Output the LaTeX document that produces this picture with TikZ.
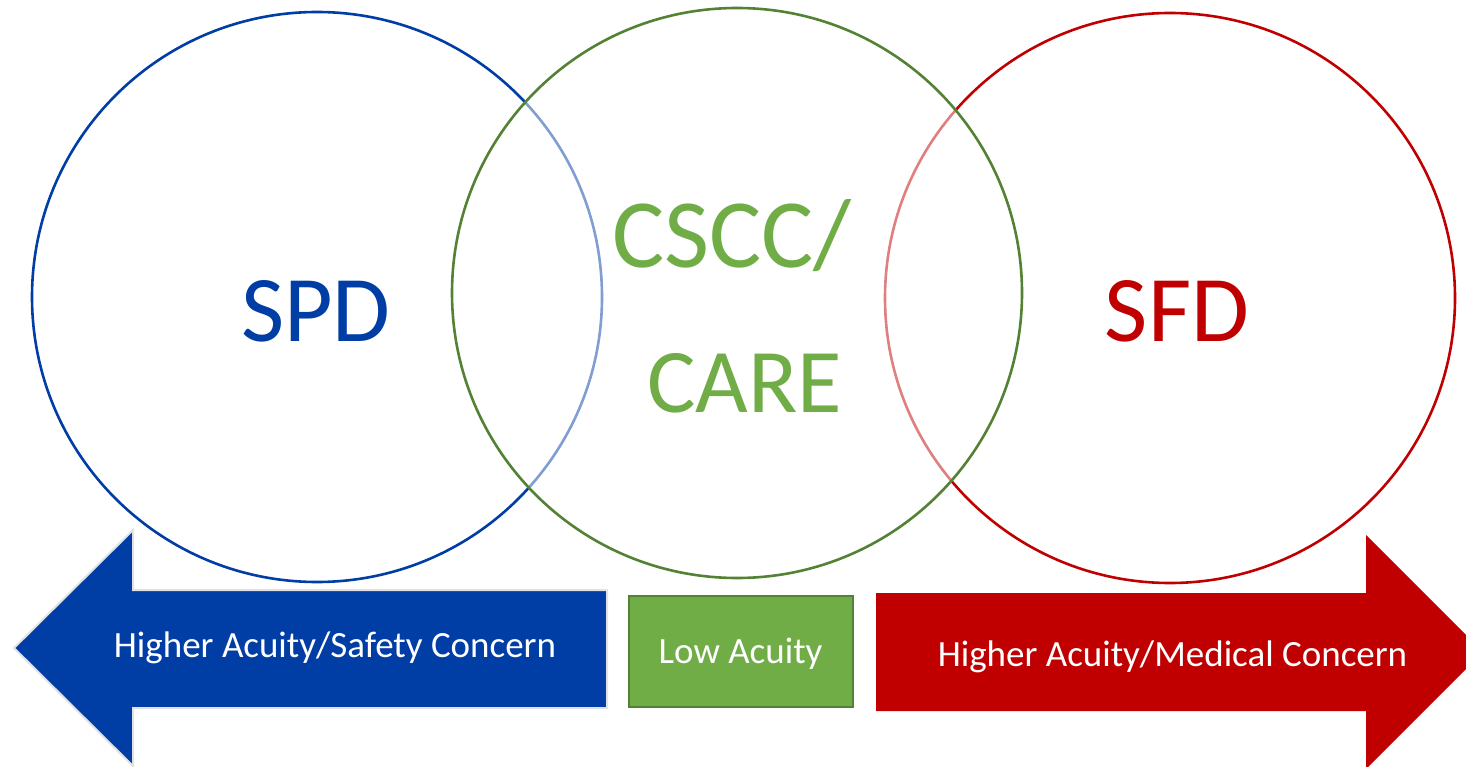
\documentclass[tikz,border=0pt]{standalone}
\usepackage{fontspec}
\setmainfont{Carlito}
\definecolor{spdblue}{RGB}{0,61,165}
\definecolor{sfdred}{RGB}{192,0,0}
\definecolor{carefill}{RGB}{112,173,71}
\definecolor{caredark}{RGB}{84,130,53}
\definecolor{arrowedge}{RGB}{225,225,230}
\begin{document}
\begin{tikzpicture}[x=1pt,y=-1pt,
  ring/.style={line width=2.6pt},
  bigtext/.style={anchor=base,inner sep=0pt,font=\fontsize{94}{110}\selectfont},
  smalltext/.style={anchor=base,inner sep=0pt,text=white,font=\fontsize{37}{44}\selectfont}]
\useasboundingbox (0,0) rectangle (1466,767);
% circles
\draw[ring,draw=spdblue,fill=white] (317,297) circle[radius=285];
\draw[ring,draw=sfdred,fill=white] (1170,298) circle[radius=285];
\fill[white,fill opacity=0.5] (737,293) circle[radius=285];
\draw[ring,draw=caredark] (737,293) circle[radius=285];
% texts in circles
\node[bigtext,text=spdblue] (spd) at (316,341) {SPD};
\node[bigtext,text=sfdred] (sfd) at (1177,341) {SFD};
\node[bigtext,text=carefill,font=\fontsize{98}{110}\selectfont] (cscc) at (732,268) {CSCC/};
\node[bigtext,text=carefill,font=\fontsize{91}{110}\selectfont] (care) at (744.5,412) {CARE};
% blue arrow
\fill[spdblue,draw=arrowedge,line width=2pt,line join=miter]
  (14,648) -- (133,530) -- (133,590) -- (607,590) -- (607,708) -- (133,708) -- (133,766) -- cycle;
% red arrow
\fill[sfdred] (876,593) -- (1366,593) -- (1366,535) -- (1483,652) -- (1366,769) -- (1366,711) -- (876,711) -- cycle;
% green box
\draw[fill=carefill,draw=caredark,line width=2.5pt] (629,596) rectangle (853,707);
% labels
\node[smalltext] (safety) at (335,657) {Higher Acuity/Safety Concern};
\node[smalltext] (low) at (740.5,663) {Low Acuity};
\node[smalltext] (medical) at (1172.5,666) {Higher Acuity/Medical Concern};
\end{tikzpicture}
\end{document}
